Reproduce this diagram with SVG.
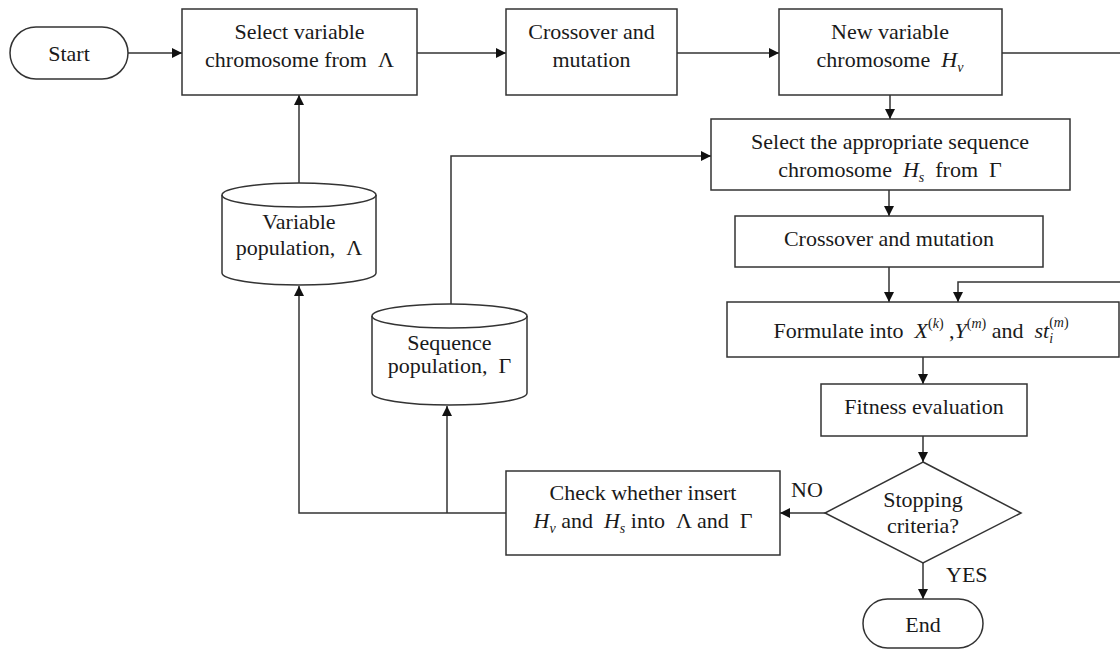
<svg xmlns="http://www.w3.org/2000/svg" width="1120" height="650" viewBox="0 0 1120 650">
  <style>
    .shape { fill: #ffffff; stroke: #333333; stroke-width: 1.5; }
    .wire { fill: none; stroke: #333333; stroke-width: 1.5; }
    .arrow { fill: none; stroke: #333333; stroke-width: 1.5; marker-end: url(#head); }
    text { font-family: "Liberation Serif", "Times New Roman", serif; font-size: 22px; fill: #1a1a1a; }
    .mid { text-anchor: middle; }
    .it { font-style: italic; }
    .sm { font-size: 14px; }
  </style>
  <defs>
    <marker id="head" viewBox="0 0 10 10" refX="10" refY="5" markerWidth="10" markerHeight="10" markerUnits="userSpaceOnUse" orient="auto">
      <path d="M0,0 L10,5 L0,10 Z" fill="#111111"/>
    </marker>
  </defs>

  <rect width="1120" height="650" fill="#ffffff"/>

  <!-- connectors -->
  <g id="connectors">
    <line class="arrow" x1="128" y1="53" x2="182" y2="53"/>
    <line class="arrow" x1="417" y1="53" x2="506" y2="53"/>
    <line class="arrow" x1="677" y1="53" x2="779" y2="53"/>
    <path class="arrow" d="M1002,53 H1126 V282 H958 V302"/>
    <line class="arrow" x1="890" y1="95" x2="890" y2="119"/>
    <line class="arrow" x1="889" y1="190" x2="889" y2="216"/>
    <line class="arrow" x1="889" y1="267" x2="889" y2="302"/>
    <line class="arrow" x1="923" y1="357" x2="923" y2="384"/>
    <line class="arrow" x1="923" y1="436" x2="923" y2="462"/>
    <line class="arrow" x1="923" y1="563" x2="923" y2="599"/>
    <line class="arrow" x1="825" y1="513" x2="780" y2="513"/>
    <path class="arrow" d="M506,513 H299 V286"/>
    <line class="arrow" x1="447" y1="513" x2="447" y2="406"/>
    <line class="arrow" x1="299" y1="183" x2="299" y2="95"/>
    <path class="arrow" d="M451,305 V156 H711"/>
  </g>

  <g id="start">
    <rect class="shape" x="10" y="27" width="118" height="52" rx="26" ry="26"/>
    <text class="mid" x="69" y="61">Start</text>
  </g>

  <g id="select-variable">
    <rect class="shape" x="182" y="9" width="235" height="86"/>
    <text class="mid" x="299.5" y="39">Select variable</text>
    <text class="mid" x="299.5" y="67">chromosome from&#160; Λ</text>
  </g>

  <g id="crossover-variable">
    <rect class="shape" x="506" y="9" width="171" height="86"/>
    <text class="mid" x="591.5" y="39">Crossover and</text>
    <text class="mid" x="591.5" y="67">mutation</text>
  </g>

  <g id="new-variable">
    <rect class="shape" x="779" y="9" width="223" height="86"/>
    <text class="mid" x="890" y="39">New variable</text>
    <text class="mid" x="890" y="67">chromosome&#160; <tspan class="it">H</tspan><tspan class="sm it" dy="5">v</tspan></text>
  </g>

  <g id="select-sequence">
    <rect class="shape" x="711" y="119" width="359" height="71"/>
    <text class="mid" x="890" y="149">Select the appropriate sequence</text>
    <text class="mid" x="890" y="177">chromosome&#160; <tspan class="it">H</tspan><tspan class="sm it" dy="5">s</tspan><tspan dy="-5">&#160; from&#160; Γ</tspan></text>
  </g>

  <g id="crossover-sequence">
    <rect class="shape" x="735" y="216" width="308" height="51"/>
    <text class="mid" x="889" y="246">Crossover and mutation</text>
  </g>

  <g id="formulate">
    <rect class="shape" x="727" y="302" width="392" height="55"/>
    <text class="mid" x="921" y="338">Formulate into&#160; <tspan class="it">X</tspan><tspan class="sm" dy="-10">(<tspan class="it">k</tspan>)</tspan><tspan dy="10">&#160;,</tspan><tspan class="it">Y</tspan><tspan class="sm" dy="-10">(<tspan class="it">m</tspan>)</tspan><tspan dy="10">&#160;and&#160; </tspan><tspan class="it">st</tspan><tspan class="sm it" dy="5">i</tspan><tspan class="sm" dx="-4" dy="-16">(<tspan class="it">m</tspan>)</tspan></text>
  </g>

  <g id="fitness">
    <rect class="shape" x="821" y="384" width="206" height="52"/>
    <text class="mid" x="924" y="414">Fitness evaluation</text>
  </g>

  <g id="stopping">
    <polygon class="shape" points="923,462 1021,513 923,563 825,513"/>
    <text class="mid" x="923" y="507">Stopping</text>
    <text class="mid" x="923" y="533">criteria?</text>
  </g>

  <g id="end">
    <rect class="shape" x="863" y="599" width="120" height="49" rx="24.5" ry="24.5"/>
    <text class="mid" x="923" y="632">End</text>
  </g>

  <g id="check-insert">
    <rect class="shape" x="506" y="471" width="274" height="84"/>
    <text class="mid" x="643" y="500">Check whether insert</text>
    <text class="mid" x="643" y="528"><tspan class="it">H</tspan><tspan class="sm it" dy="5">v</tspan><tspan dy="-5"> and&#160; </tspan><tspan class="it">H</tspan><tspan class="sm it" dy="5">s</tspan><tspan dy="-5"> into&#160; Λ and&#160; Γ</tspan></text>
  </g>

  <g id="variable-population">
    <path class="shape" d="M222,195 A77,12 0 0 1 376,195 V273 A77,12 0 0 1 222,273 Z"/>
    <path class="wire" d="M222,195 A77,12 0 0 0 376,195"/>
    <text class="mid" x="299" y="229">Variable</text>
    <text class="mid" x="299" y="255">population,&#160; Λ</text>
  </g>

  <g id="sequence-population">
    <path class="shape" d="M372,316 A77.5,12 0 0 1 527,316 V393 A77.5,12 0 0 1 372,393 Z"/>
    <path class="wire" d="M372,316 A77.5,12 0 0 0 527,316"/>
    <text class="mid" x="449.5" y="350">Sequence</text>
    <text class="mid" x="449.5" y="373">population,&#160; Γ</text>
  </g>

  <g id="branch-labels">
    <text x="791" y="497">NO</text>
    <text x="946" y="582">YES</text>
  </g>
</svg>
